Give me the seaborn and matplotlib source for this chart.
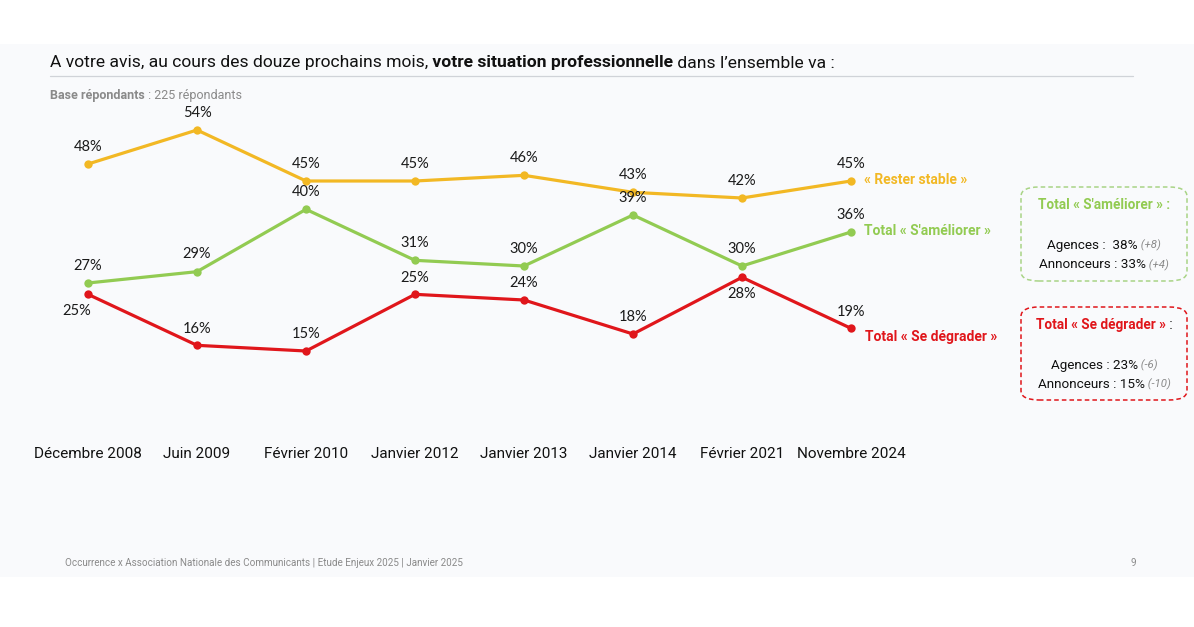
import matplotlib
matplotlib.use("Agg")
import matplotlib.pyplot as plt
from matplotlib.patches import Rectangle, FancyBboxPatch
import seaborn as sns
import pandas as pd

# ---------------- data ----------------
periodes = ["Décembre 2008", "Juin 2009", "Février 2010", "Janvier 2012",
            "Janvier 2013", "Janvier 2014", "Février 2021", "Novembre 2024"]
rester_stable = [48, 54, 45, 45, 46, 43, 42, 45]
ameliorer = [27, 29, 40, 31, 30, 39, 30, 36]
degrader = [25, 16, 15, 25, 24, 18, 28, 19]
series_names = ["« Rester stable »", "Total « S'améliorer »", "Total « Se dégrader »"]
# label placement: 1 above, -1 below
pos_red = [-1, 1, 1, 1, 1, 1, -1, 1]

W, H = 1194, 627
sns.set_theme(style="white")
plt.rcParams["font.family"] = ["Roboto", "DejaVu Sans"]

YEL, GRN, RED = "#F2B824", "#92CB52", "#E0161B"
palette = {series_names[0]: YEL, series_names[1]: GRN, series_names[2]: RED}

df = pd.DataFrame({
    "periode": periodes * 3,
    "valeur": rester_stable + ameliorer + degrader,
    "serie": [series_names[0]] * 8 + [series_names[1]] * 8 + [series_names[2]] * 8,
})

fig = plt.figure(figsize=(W / 100, H / 100), dpi=100)
fig.patch.set_facecolor("white")
fig.patches.append(Rectangle((0, 1 - 577 / H), 1, (577 - 44) / H, transform=fig.transFigure,
                             facecolor="#F9FAFC", edgecolor="none", zorder=-10))

ax = fig.add_axes([33.5 / W, 1 - 436 / H, 872 / W, 340 / H])
ax.set_facecolor("none")
sns.lineplot(data=df, x="periode", y="valeur", hue="serie", palette=palette,
             marker="o", markersize=6, markeredgewidth=0, linewidth=2.3,
             sort=False, legend=False, ax=ax)
ax.set_xlim(-0.5, 7.5)
ax.set_ylim(0, 60)
ax.set_xlabel("")
ax.set_ylabel("")
ax.set_yticks([])
ax.set_xticks(range(len(periodes)))
ax.set_xticklabels(periodes, fontsize=11, color="#111111")
ax.tick_params(axis="x", length=0, pad=8)
for s in ax.spines.values():
    s.set_visible(False)

lab_font = dict(family=["Lato", "DejaVu Sans"], fontsize=10.5, color="#1a1a1a",
                ha="center", va="center")
for i, v in enumerate(rester_stable):
    ax.annotate(f"{v}%", (i, v), xytext=(0, 12.5), textcoords="offset points", **lab_font)
for i, v in enumerate(ameliorer):
    ax.annotate(f"{v}%", (i, v), xytext=(0, 12.5), textcoords="offset points", **lab_font)
for i, v in enumerate(degrader):
    dx = -8 if i == 0 else 0
    ax.annotate(f"{v}%", (i, v), xytext=(dx, 12 * pos_red[i]), textcoords="offset points", **lab_font)

# end-of-line series labels
last = len(periodes) - 1
ax.annotate(series_names[0], (last, rester_stable[-1]), xytext=(9, 0.5), textcoords="offset points",
            color=YEL, fontweight="bold", fontsize=10, ha="left", va="center")
ax.annotate(series_names[1], (last, ameliorer[-1]), xytext=(9, 0.5), textcoords="offset points",
            color=GRN, fontweight="bold", fontsize=10, ha="left", va="center")
ax.annotate(series_names[2], (last, degrader[-1]), xytext=(10, -6.5), textcoords="offset points",
            color=RED, fontweight="bold", fontsize=10, ha="left", va="center")

renderer = fig.canvas.get_renderer()


def fy(y):
    return 1 - y / H


def runs(x, y, parts, center=False):
    texts = []
    widths = []
    for txt, props in parts:
        t = fig.text(0, fy(y), txt, va="center", ha="left", **props)
        widths.append(t.get_window_extent(renderer).width)
        texts.append(t)
    total = sum(widths)
    cx = x - total / 2 if center else x
    for t, w in zip(texts, widths):
        t.set_x(cx / W)
        cx += w


# title
title_kw = dict(fontsize=12.6, color="#111111")
runs(50, 63, [("A votre avis, au cours des douze prochains mois,", title_kw),
              (" votre situation professionnelle", dict(title_kw, fontweight="bold")),
              (" dans l\u2019ensemble va :", title_kw)])
fig.add_artist(plt.Line2D([50 / W, 1133 / W], [fy(76), fy(76)], color="#D0D3D8", linewidth=0.9))

runs(50, 96, [("Base répondants", dict(fontsize=9, color="#8a8a8a", fontweight="bold")),
              (" : 225 répondants", dict(fontsize=9, color="#8a8a8a"))])

# boxes
def box(y0, y1, color):
    fig.patches.append(FancyBboxPatch((1021 / W, fy(y1)), (1187 - 1021) / W, (y1 - y0) / H,
                                      boxstyle="round,pad=0,rounding_size=0.015",
                                      transform=fig.transFigure, facecolor="none",
                                      edgecolor=color, linewidth=1.1, linestyle=(0, (3, 2))))

box(187, 281, "#A9D486")
box(307, 400, RED)

bkw = dict(fontsize=9.7, color="#111111")
gkw = dict(fontsize=8.2, color="#8a8a8a", style="italic")
cx = 1104
runs(cx, 205, [("Total « S'améliorer » :", dict(fontsize=9.8, color=GRN, fontweight="bold"))], center=True)
runs(cx, 245, [("Agences :  38%", bkw), (" (+8)", gkw)], center=True)
runs(cx, 265, [("Annonceurs : 33%", bkw), (" (+4)", gkw)], center=True)
runs(cx, 325, [("Total « Se dégrader »", dict(fontsize=9.8, color=RED, fontweight="bold")),
               (" :", dict(fontsize=9.8, color="#111111"))], center=True)
runs(cx, 365, [("Agences : 23%", bkw), (" (-6)", gkw)], center=True)
runs(cx, 384, [("Annonceurs : 15%", bkw), (" (-10)", gkw)], center=True)

# footer
fig.text(65 / W, fy(563), "Occurrence x Association Nationale des Communicants | Etude Enjeux 2025 | Janvier 2025",
         fontsize=7.1, color="#8a8a8a", ha="left", va="center")
fig.text(1133 / W, fy(563), "9", fontsize=7.1, color="#8a8a8a", ha="center", va="center")

fig.savefig("out.png", dpi=100, facecolor="white")
